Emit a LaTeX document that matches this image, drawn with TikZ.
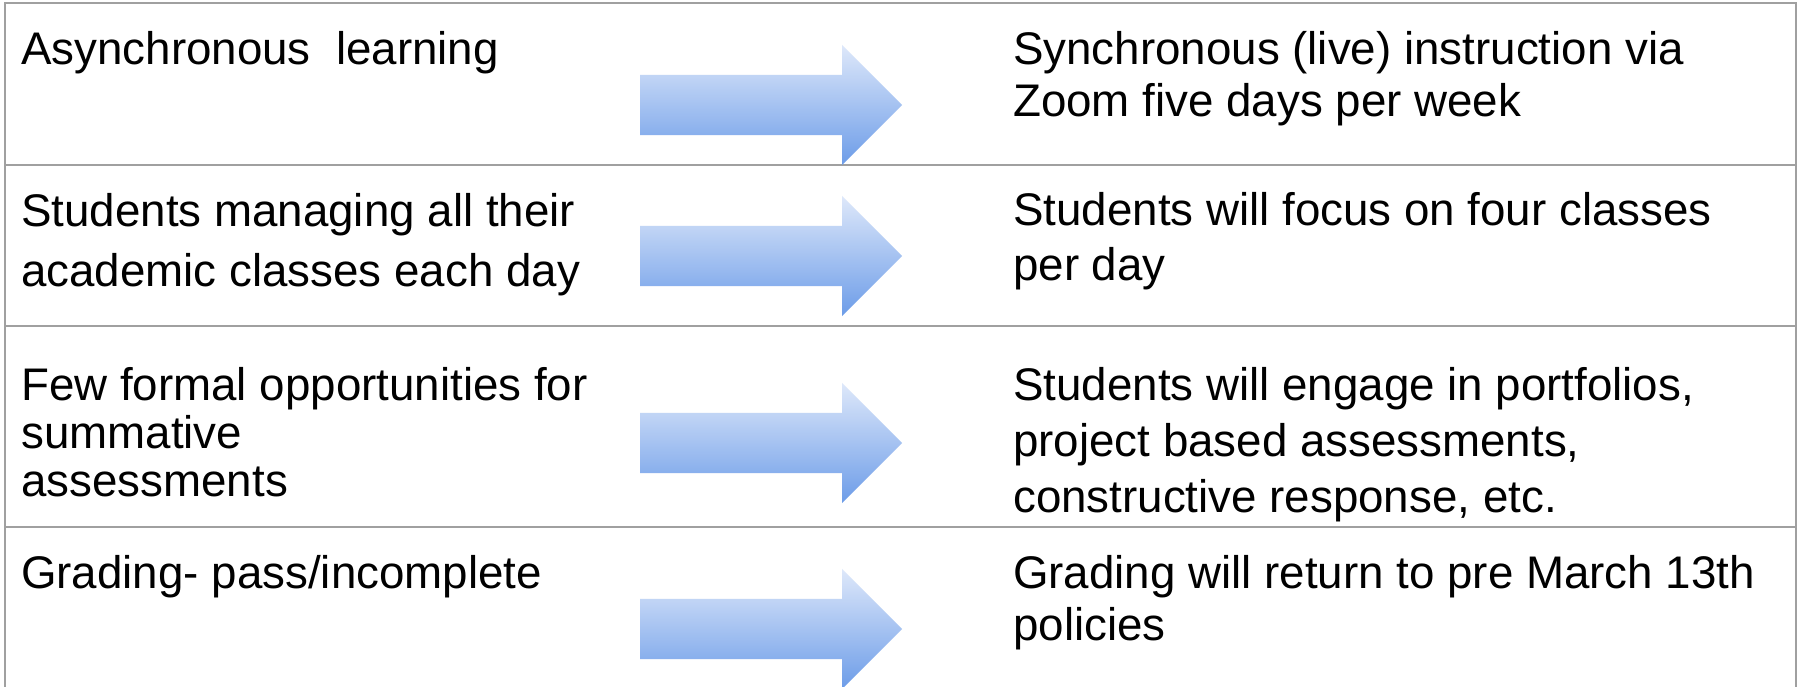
\documentclass[tikz,border=0pt]{standalone}
\usepackage{fontspec}
\setmainfont{Liberation Sans}
\usetikzlibrary{shapes.arrows}
\definecolor{gridgray}{RGB}{160,160,160}
\definecolor{arrowtop}{RGB}{222,232,250}
\definecolor{arrowbot}{RGB}{108,156,232}
\tikzset{
  cell/.style={anchor=base west, inner sep=0pt, align=left, font=\fontsize{45.7}{#1}\selectfont},
  cell/.default=55,
  blockarrow/.style={single arrow, single arrow head extend=30pt, inner xsep=0pt, inner ysep=30pt,
    minimum height=262pt, anchor=tail, top color=arrowtop, bottom color=arrowbot, draw=none},
  gridline/.style={draw=gridgray, line width=2pt}
}
\begin{document}
\begin{tikzpicture}[x=1pt,y=-1pt]
            \useasboundingbox (0,0) rectangle (1803,687);
            \fill[white] (0,0) rectangle (1803,687);

            \draw[gridline] (5,700) -- (5,3) -- (1796,3) -- (1796,700);
            \draw[gridline] (5,165) -- (1796,165);
            \draw[gridline] (5,326) -- (1796,326);
            \draw[gridline] (5,527) -- (1796,527);

            % base anchor sits on the last line
            \node[cell] (L1) at (21,65) {Asynchronous\ \ learning};
            \node[cell=60] (L2) at (21,286) {Students managing all their\\academic classes each day};
            \node[cell=48] (L3) at (21,496) {Few formal opportunities for\\summative\\assessments};
            \node[cell] (L4) at (21,588) {Grading- pass/incomplete};

            \node[blockarrow] (A1) at (640,105) {};
            \node[blockarrow] (A2) at (640,256) {};
            \node[blockarrow] (A3) at (640,443) {};
            \node[blockarrow] (A4) at (640,629) {};

            \node[cell=52] (R1) at (1013,117) {Synchronous (live) instruction via\\Zoom five days per week};
            \node[cell=55] (R2) at (1013,280) {Students will focus on four classes\\per day};
            \node[cell=56] (R3) at (1013,512) {Students will engage in portfolios,\\project based assessments,\\constructive response, etc.};
            \node[cell=52] (R4) at (1013,640) {Grading will return to pre March 13th\\policies};
        \end{tikzpicture}
\end{document}
